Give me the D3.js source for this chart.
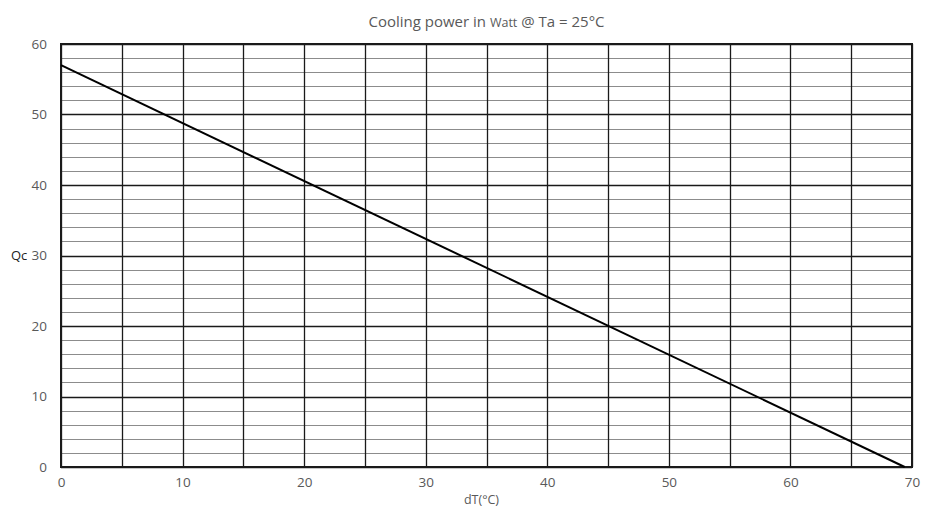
<!DOCTYPE html>
<html><head><meta charset="utf-8">
<script src="https://cdn.jsdelivr.net/npm/d3@7"></script>
<style>body{margin:0;background:#fff}svg{display:block}text{font-family:"Open Sans","Noto Sans",sans-serif;fill:#595959}</style>
</head><body><svg id="c" width="929" height="510"></svg>
<script>
const dT = [0, 69.4];
const Qc = [57, 0];
const xTicks = [0,10,20,30,40,50,60,70];
const yTicks = [0,10,20,30,40,50,60];
const xGrid = d3.range(0, 71, 5);
const yMinor = d3.range(0, 61, 2);

const svg = d3.select("#c");
const m = {l:61, r:929-912, t:44, b:510-467};
const W = 929 - m.l - m.r, H = 510 - m.t - m.b;
const x = d3.scaleLinear().domain([0,70]).range([m.l, m.l+W]);
const y = d3.scaleLinear().domain([0,60]).range([m.t+H, m.t]);

const g = svg.append("g");
g.selectAll(".ym").data(yMinor).enter().append("line")
 .attr("x1", x(0)).attr("x2", x(70)).attr("y1", d=>Math.round(y(d))+0.5).attr("y2", d=>Math.round(y(d))+0.5)
 .attr("stroke", "#8c8c8c").attr("stroke-width", 1);
g.selectAll(".yM").data(yTicks).enter().append("line")
 .attr("x1", x(0)).attr("x2", x(70)).attr("y1", d=>Math.round(y(d))+0.5).attr("y2", d=>Math.round(y(d))+0.5)
 .attr("stroke", "#1a1a1a").attr("stroke-width", 1.3);
g.selectAll(".xg").data(xGrid).enter().append("line")
 .attr("y1", y(0)).attr("y2", y(60)).attr("x1", d=>Math.round(x(d))+0.5).attr("x2", d=>Math.round(x(d))+0.5)
 .attr("stroke", "#1a1a1a").attr("stroke-width", 1.3);
g.append("rect").attr("x", x(0)).attr("y", y(60)).attr("width", W).attr("height", H)
 .attr("fill","none").attr("stroke","#1a1a1a").attr("stroke-width",2);

const pts = dT.map((d,i)=>[d, Qc[i]]);
g.append("path").datum(pts).attr("d", d3.line().x(d=>x(d[0])).y(d=>y(d[1])))
 .attr("fill","none").attr("stroke","#000").attr("stroke-width",2);

// axes
const xa = svg.append("g").attr("transform", `translate(0,${y(0)})`)
 .call(d3.axisBottom(x).tickValues(xTicks).tickSize(0).tickPadding(10));
xa.select(".domain").remove();
xa.selectAll("text").attr("font-size", 13.5).style("fill","#595959").attr("font-family","Open Sans");
const ya = svg.append("g").attr("transform", `translate(${x(0)},0)`)
 .call(d3.axisLeft(y).tickValues(yTicks).tickSize(0).tickPadding(14));
ya.select(".domain").remove();
ya.selectAll("text").attr("font-size", 13.5).style("fill","#595959").attr("font-family","Open Sans");

const t = svg.append("text").attr("x", (x(0)+x(70))/2).attr("y", 27).attr("text-anchor","middle").attr("font-size",15);
t.append("tspan").text("Cooling power in ");
t.append("tspan").attr("font-size",12.5).text("Watt");
t.append("tspan").text(" @ Ta = 25°C");
svg.append("text").attr("x", (x(0)+x(70))/2 - 5).attr("y", 504).attr("text-anchor","middle").attr("font-size",12.5).text("dT(°C)");
svg.append("text").attr("x", 11).attr("y", 260).attr("font-size",13).style("fill","#222").text("Qc");
</script></body></html>
